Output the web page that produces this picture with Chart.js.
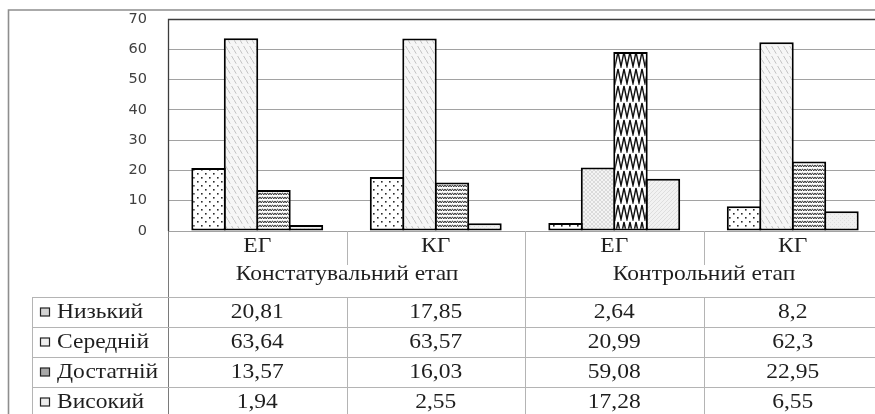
<!DOCTYPE html>
<html lang="uk">
<head>
<meta charset="utf-8">
<title>Рівні сформованості</title>
<script src="https://cdn.jsdelivr.net/npm/chart.js@4/dist/chart.umd.min.js"></script>
<style>
  html, body { margin: 0; padding: 0; background: #fff; overflow: hidden; }
  #wrap { width: 875px; height: 414px; overflow: hidden; position: relative; }
  canvas { display: block; }
</style>
</head>
<body>
<div id="wrap"><canvas id="chart" width="900" height="414"></canvas></div>
<script>
// Groups on the x axis and the two stages they belong to
const categories = ['ЕГ', 'КГ', 'ЕГ', 'КГ'];
const stages = ['Констатувальний етап', 'Контрольний етап'];
const levels = ['Низький', 'Середній', 'Достатній', 'Високий'];

// Percentages per level, one value per group
const lowValues = [20.81, 17.85, 2.64, 8.2];
const middleValues = [63.64, 63.57, 20.99, 62.3];
const sufficientValues = [13.57, 16.03, 59.08, 22.95];
const highValues = [1.94, 2.55, 17.28, 6.55];

// Value axis
const yMin = 0;
const yMax = 70;
const yStep = 10;

const canvas = document.getElementById('chart');
const ctx = canvas.getContext('2d');

// ---- hatch fills ----
function tile(w, h, paint) {
  const c = document.createElement('canvas');
  c.width = w; c.height = h;
  const g = c.getContext('2d');
  paint(g, w, h);
  return ctx.createPattern(c, 'repeat');
}
const dots = tile(8, 8, (g) => {
  g.fillStyle = '#fff'; g.fillRect(0, 0, 8, 8);
  g.fillStyle = '#2a2a2a';
  g.fillRect(1, 1, 1.6, 1.6);
  g.fillRect(5, 5, 1.6, 1.6);
});
const dashedDiagonal = tile(6, 10, (g) => {
  g.fillStyle = '#f6f6f6'; g.fillRect(0, 0, 6, 10);
  g.strokeStyle = '#bdbdbd'; g.lineWidth = 0.9;
  g.beginPath();
  g.moveTo(0, 0); g.lineTo(2.2, 3.7);
  g.moveTo(3.6, 6); g.lineTo(6, 10);
  g.stroke();
});
const lightCross = tile(4, 4, (g) => {
  g.fillStyle = '#f4f4f4'; g.fillRect(0, 0, 4, 4);
  g.strokeStyle = '#d0d0d0'; g.lineWidth = 0.7;
  g.beginPath();
  g.moveTo(0, 0); g.lineTo(4, 4);
  g.moveTo(4, 0); g.lineTo(0, 4);
  g.stroke();
});
const smallWave = tile(5, 4, (g) => {
  g.fillStyle = '#fff'; g.fillRect(0, 0, 5, 4);
  g.strokeStyle = '#3a3a3a'; g.lineWidth = 1;
  g.beginPath();
  g.moveTo(0, 0.8); g.lineTo(1.25, 3); g.lineTo(2.5, 0.8); g.lineTo(3.75, 3); g.lineTo(5, 0.8);
  g.stroke();
});
const bigZigzag = tile(6, 17, (g) => {
  g.fillStyle = '#fff'; g.fillRect(0, 0, 6, 17);
  g.strokeStyle = '#111'; g.lineWidth = 1.4;
  g.beginPath();
  g.moveTo(0, 1); g.lineTo(3, 15.5); g.lineTo(6, 1);
  g.stroke();
});
const paleFill = tile(4, 4, (g) => {
  g.fillStyle = '#f0f0f0'; g.fillRect(0, 0, 4, 4);
  g.fillStyle = '#dedede';
  g.fillRect(0, 0, 1, 1); g.fillRect(2, 2, 1, 1);
});
const paleDiagonal = tile(4, 4, (g) => {
  g.fillStyle = '#f2f2f2'; g.fillRect(0, 0, 4, 4);
  g.strokeStyle = '#d8d8d8'; g.lineWidth = 0.8;
  g.beginPath(); g.moveTo(0, 4); g.lineTo(4, 0); g.stroke();
});

const keyColors = ['#d4d4d4', '#efefef', '#a8a8a8', '#ececec'];

function bar(label, data, fills) {
  return {
    label, data,
    backgroundColor: fills,
    borderColor: '#000',
    borderWidth: 2,
    borderSkipped: false,
    categoryPercentage: 0.728,
    barPercentage: 1.06
  };
}

const serif = '"Liberation Serif", "Times New Roman", serif';
const textColor = '#1e1e1e';
const lineColor = '#b4b4b4';

function stretchedText(g, text, x, y, align) {
  g.save();
  g.translate(x, y);
  g.scale(1.12, 1);
  g.textAlign = align;
  g.fillText(text, 0, 0);
  g.restore();
}

const fmt = (v) => String(v).replace('.', ',');

// Frame, plot border and the data table under the axis
const tablePlugin = {
  id: 'dataTable',
  afterDraw(chart) {
    const g = chart.ctx;
    const x = chart.scales.x;
    const area = chart.chartArea;
    const n = categories.length;
    const w = (x.right - x.left) / n;
    const edge = (i) => Math.round(x.left + i * w) + 0.5;
    const right = chart.width;
    const bottom = chart.height;
    const axisY = area.bottom;
    const tickRowEnd = 265;
    const headerEnd = 297;
    const rowH = 30;
    const keyLeft = 32;

    g.save();
    // outer frame
    g.strokeStyle = '#8e8e8e';
    g.lineWidth = 1.6;
    g.beginPath();
    g.moveTo(8.5, bottom); g.lineTo(8.5, 10); g.lineTo(right, 10);
    g.stroke();

    // plot area border (top and left)
    g.strokeStyle = '#3c3c3c';
    g.lineWidth = 1.3;
    g.beginPath();
    g.moveTo(edge(0), area.bottom); g.lineTo(edge(0), Math.round(area.top) + 0.5); g.lineTo(right, Math.round(area.top) + 0.5);
    g.stroke();

    // table grid
    g.lineWidth = 1;
    g.strokeStyle = '#7a7a7a';
    g.beginPath();
    g.moveTo(edge(0), axisY); g.lineTo(edge(0), bottom);
    g.stroke();

    g.strokeStyle = lineColor;
    g.beginPath();
    g.moveTo(keyLeft + 0.5, headerEnd); g.lineTo(keyLeft + 0.5, bottom);
    for (let i = 1; i < n; i++) {
      if (i === n / 2) {
        g.moveTo(edge(i), axisY); g.lineTo(edge(i), bottom);
      } else {
        g.moveTo(edge(i), axisY); g.lineTo(edge(i), tickRowEnd);
        g.moveTo(edge(i), headerEnd); g.lineTo(edge(i), bottom);
      }
    }
    for (let r = 0; r < levels.length; r++) {
      const yy = headerEnd + r * rowH + 0.5;
      g.moveTo(keyLeft, yy); g.lineTo(right, yy);
    }
    g.stroke();

    // category and stage labels
    g.fillStyle = textColor;
    g.font = '21px ' + serif;
    g.textBaseline = 'middle';
    categories.forEach((c, i) => stretchedText(g, c, x.getPixelForValue(i), 246, 'center'));
    stages.forEach((s, k) => {
      const cx = (edge(k * n / 2) + edge((k + 1) * n / 2)) / 2;
      stretchedText(g, s, cx, 274, 'center');
    });

    // rows: legend key, level name, values
    const rows = [lowValues, middleValues, sufficientValues, highValues];
    rows.forEach((vals, r) => {
      const cy = headerEnd + r * rowH + rowH / 2 + 0.5;
      g.fillStyle = keyColors[r];
      g.fillRect(40.5, cy - 4.5, 9, 8);
      g.strokeStyle = '#222';
      g.lineWidth = 1.2;
      g.strokeRect(40.5, cy - 4.5, 9, 8);
      g.fillStyle = textColor;
      stretchedText(g, levels[r], 57, cy, 'left');
      vals.forEach((v, i) => stretchedText(g, fmt(v), x.getPixelForValue(i), cy, 'center'));
    });
    g.restore();
  }
};

new Chart(ctx, {
  type: 'bar',
  data: {
    labels: categories,
    datasets: [
      bar(levels[0], lowValues, [dots, dots, dots, dots]),
      bar(levels[1], middleValues, [dashedDiagonal, dashedDiagonal, lightCross, dashedDiagonal]),
      bar(levels[2], sufficientValues, [smallWave, smallWave, bigZigzag, smallWave]),
      bar(levels[3], highValues, [paleFill, paleFill, paleDiagonal, paleFill])
    ]
  },
  options: {
    responsive: false,
    animation: false,
    devicePixelRatio: 1,
    layout: { padding: { left: 0, top: 19, right: 18, bottom: 183 } },
    plugins: { legend: { display: false }, tooltip: { enabled: false } },
    scales: {
      x: { display: false },
      y: {
        min: yMin, max: yMax,
        afterFit(scale) {
          scale.width = 168;
          scale.paddingTop = 0;
          scale.paddingBottom = 0;
        },
        border: { display: false },
        grid: { color: '#a2a2a2', lineWidth: 1, drawTicks: false },
        ticks: {
          stepSize: yStep,
          padding: 21,
          color: '#404040',
          font: { family: '"DejaVu Sans", Verdana, sans-serif', size: 14.5 }
        }
      }
    }
  },
  plugins: [tablePlugin]
});
</script>
</body>
</html>
